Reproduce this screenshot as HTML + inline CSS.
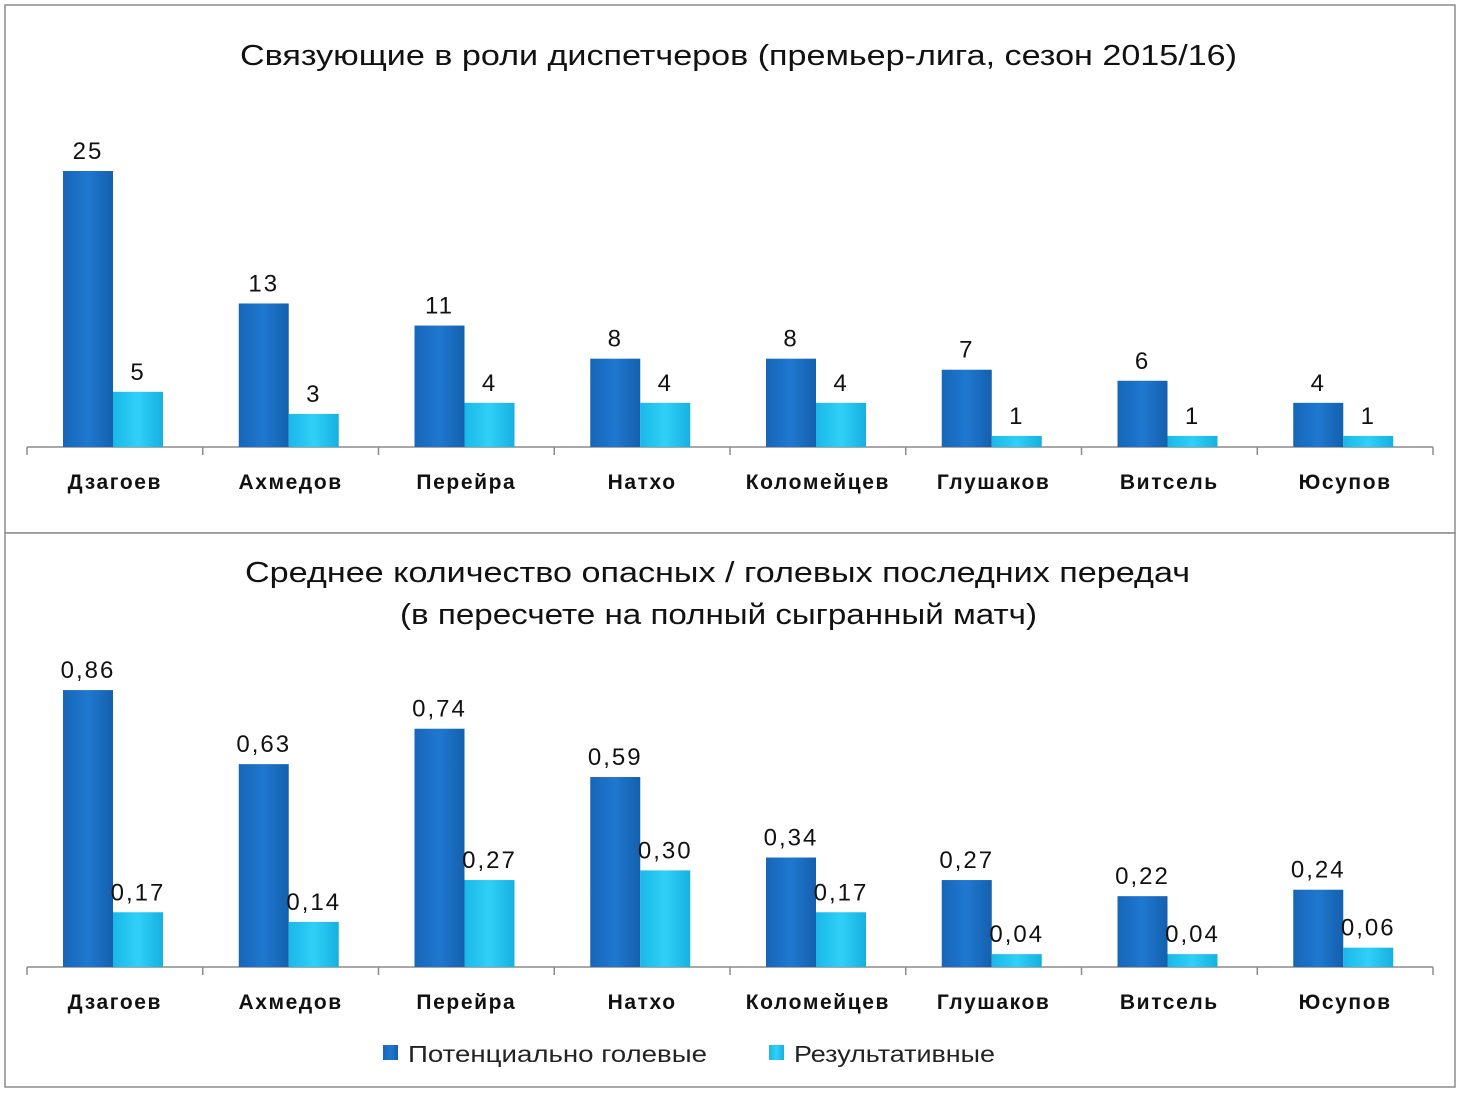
<!DOCTYPE html>
<html><head><meta charset="utf-8"><style>
body{margin:0;background:#fff;width:1460px;height:1092px;overflow:hidden;font-family:"Liberation Sans","DejaVu Sans",sans-serif}
</style></head><body>
<svg id="s" width="1460" height="1092" xmlns="http://www.w3.org/2000/svg">
<defs>
<linearGradient id="gd" x1="0" x2="1"><stop offset="0" stop-color="#1766b8"/><stop offset="0.5" stop-color="#1f78d0"/><stop offset="1" stop-color="#1460ad"/></linearGradient>
<linearGradient id="gl" x1="0" x2="1"><stop offset="0" stop-color="#1ab8e8"/><stop offset="0.5" stop-color="#2fd0f8"/><stop offset="1" stop-color="#17b0e0"/></linearGradient>
</defs>
<rect x="5" y="5" width="1450" height="528" fill="#fff" stroke="#8c8c8c" stroke-width="1.5"/>
<rect x="5" y="533" width="1450" height="554" fill="#fff" stroke="#8c8c8c" stroke-width="1.5"/>
<text x="240" y="65" textLength="997" lengthAdjust="spacingAndGlyphs" font-size="29" fill="#111">Связующие в роли диспетчеров (премьер-лига, сезон 2015/16)</text>
<text x="245" y="582" textLength="945" lengthAdjust="spacingAndGlyphs" font-size="29" fill="#111">Среднее количество опасных / голевых последних передач</text>
<text x="400" y="624" textLength="637" lengthAdjust="spacingAndGlyphs" font-size="29" fill="#111">(в пересчете на полный сыгранный матч)</text>
<g id="top"></g>
<g id="bot"></g>
<rect x="383" y="1045" width="15" height="15" fill="url(#gd)"/>
<text x="408" y="1062" textLength="299" lengthAdjust="spacingAndGlyphs" font-size="23" fill="#222">Потенциально голевые</text>
<rect x="769" y="1045" width="15" height="15" fill="url(#gl)"/>
<text x="794" y="1062" textLength="201" lengthAdjust="spacingAndGlyphs" font-size="23" fill="#222">Результативные</text>
</svg>
<script>
const categories=["Дзагоев","Ахмедов","Перейра","Натхо","Коломейцев","Глушаков","Витсель","Юсупов"];
const topPotential=[25,13,11,8,8,7,6,4];
const topResult=[5,3,4,4,4,1,1,1];
const botPotential=[0.86,0.63,0.74,0.59,0.34,0.27,0.22,0.24];
const botResult=[0.17,0.14,0.27,0.30,0.17,0.04,0.04,0.06];
const NS="http://www.w3.org/2000/svg";
function mk(tag,attrs,parent){const e=document.createElementNS(NS,tag);for(const k in attrs)e.setAttribute(k,attrs[k]);parent.appendChild(e);return e;}
function draw(g,base,pxPerUnit,pot,res,fmt){
  const x0=27,x1=1433,cw=(x1-x0)/categories.length;
  const y=v=>base-v*pxPerUnit;
  const ax=mk('line',{x1:x0,x2:x1,y1:base,y2:base,stroke:'#8c8c8c','stroke-width':1.5},g);
  
  
  for(let i=0;i<=categories.length;i++){
    const t=mk('line',{x1:x0+i*cw,x2:x0+i*cw,y1:base,y2:base+8,stroke:'#8c8c8c','stroke-width':1.5},g);
    
    
  }
  categories.forEach((c,i)=>{
    const cx=x0+i*cw;
    const bx=cx+36,bw=50;
    const b1=mk('rect',{x:bx,y:y(pot[i]),width:bw,height:pot[i]*pxPerUnit,fill:'url(#gd)'},g);
    
    
    const b2=mk('rect',{x:bx+bw,y:y(res[i]),width:bw,height:res[i]*pxPerUnit,fill:'url(#gl)'},g);
    
    
    const l1=mk('text',{x:bx+bw/2,y:y(pot[i])-12,'text-anchor':'middle','font-size':24,'letter-spacing':2,fill:'#111'},g);
    l1.textContent=fmt(pot[i]);
    
    
    const l2=mk('text',{x:bx+bw*1.5,y:y(res[i])-12,'text-anchor':'middle','font-size':24,'letter-spacing':2,fill:'#111'},g);
    l2.textContent=fmt(res[i]);
    
    
    const cl=mk('text',{x:cx+cw/2,y:base+42,'text-anchor':'middle','font-size':21,'font-weight':'bold','letter-spacing':1.6,fill:'#111'},g);
    cl.textContent=c;
    
    
  });
}
draw(document.getElementById('top'),447,11.04,topPotential,topResult,v=>String(v));
draw(document.getElementById('bot'),967,322,botPotential,botResult,v=>v.toFixed(2).replace('.',','));
</script>
</body></html>
